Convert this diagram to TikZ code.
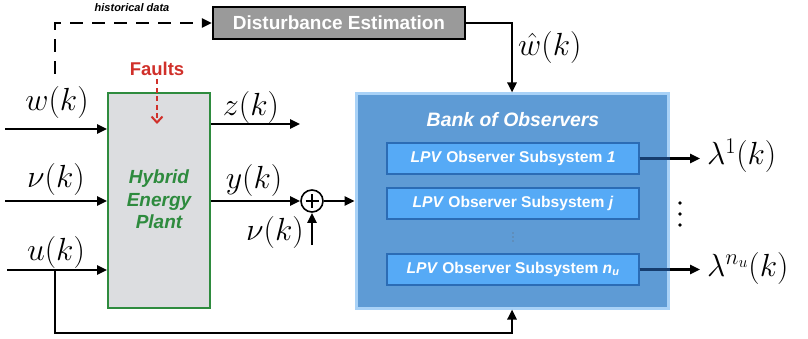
\RequirePackage{fix-cm}
\documentclass[tikz,border=0pt]{standalone}
\usepackage{fontspec}
\setsansfont{Liberation Sans}
\usetikzlibrary{arrows.meta,calc}

\definecolor{degray}{HTML}{9A9A9A}
\definecolor{plantfill}{HTML}{DCDDE0}
\definecolor{plantgreen}{HTML}{2E8B3E}
\definecolor{bankfill}{HTML}{5E9BD5}
\definecolor{bankedge}{HTML}{A9D2F7}
\definecolor{subfill}{HTML}{56AAF6}
\definecolor{subedge}{HTML}{2B6CB5}
\definecolor{faultred}{HTML}{D0302A}
\definecolor{navyline}{HTML}{163D6E}

\tikzset{
  sig/.style={line width=2.4pt, -{Triangle[length=10pt,width=9pt]}},
  mathlbl/.style={inner sep=0pt, anchor=base, font=\fontsize{32}{36}\selectfont},
  planttext/.style={inner sep=0pt, anchor=base, text=plantgreen,
    font=\sffamily\bfseries\itshape\fontsize{19}{22}\selectfont},
  subbox/.style={draw=subedge, line width=1.2pt, fill=subfill, minimum width=252pt,
    minimum height=31pt, inner sep=0pt, text=white,
    font=\sffamily\bfseries\fontsize{15.6}{18}\selectfont},
}

\begin{document}
\begin{tikzpicture}[x=1pt,y=-1pt]
\useasboundingbox (0,0) rectangle (808,339);

% disturbance estimation block and its historical-data feed
\node[draw=black, line width=2.5pt, fill=degray, minimum width=252pt, minimum height=32pt,
  inner sep=0pt, text=white, font=\sffamily\bfseries\fontsize{19}{22}\selectfont]
  (de) at (339,23) {Disturbance Estimation};
\node[inner sep=0pt, font=\sffamily\bfseries\itshape\fontsize{11}{13}\selectfont]
  (hist) at (132,8) {historical data};
\coordinate (hd) at (55,74);
\draw[sig, dash pattern=on 13pt off 9pt] (hd) |- (de.west);

% plant
\node[draw=plantgreen, line width=2pt, fill=plantfill, minimum width=102pt,
  minimum height=215pt, inner sep=0pt] (plant) at (159,200.5) {};
\node[planttext] (pl1) at (159,184) {Hybrid};
\node[planttext] (pl2) at (159,207) {Energy};
\node[planttext] (pl3) at (159,229) {Plant};

% faults
\node[inner sep=0pt, anchor=base, text=faultred,
  font=\sffamily\bfseries\fontsize{18.5}{22}\selectfont] (faults) at (157,76) {Faults};
\coordinate (fend) at (157,124);
\draw[faultred, line width=2pt, dash pattern=on 5pt off 3.5pt,
  -{Straight Barb[length=6pt,width=11pt,line width=2pt]}] ($(faults.south)+(0,3)$) -- (fend);

% plant inputs
\coordinate (win) at (5,129);
\coordinate (nin) at (5,201);
\coordinate (uin) at (7,270);
\draw[sig] (win) -- (win -| plant.west);
\draw[sig] (nin) -- (nin -| plant.west);
\draw[sig] (uin) -- (uin -| plant.west);
\node[mathlbl] (lw) at (57,110.5) {$w(k)$};
\node[mathlbl] (ln) at (56,188) {$\nu(k)$};
\node[mathlbl] (lu) at (56,260) {$u(k)$};

% plant outputs
\coordinate (zout) at (300,124);
\draw[sig] (zout -| plant.east) -- (zout);
\node[mathlbl] (lz) at (251,115.5) {$z(k)$};

\node[draw=black, line width=1.6pt, circle, minimum size=22pt, inner sep=0pt] (sum) at (312,201) {};
\draw[line width=1.3pt] ($(sum.center)+(-6.5,0)$) -- ($(sum.center)+(6.5,0)$)
  ($(sum.center)+(0,-6.5)$) -- ($(sum.center)+(0,6.5)$);
\draw[sig] (sum -| plant.east) -- (sum.west);
\node[mathlbl] (ly) at (254,188.5) {$y(k)$};
\coordinate (nub) at (312,245);
\draw[sig] (nub) -- (sum.south);
\node[mathlbl] (ln2) at (275,240) {$\nu(k)$};

% bank of observers
\node[draw=bankedge, line width=3pt, fill=bankfill, minimum width=312pt,
  minimum height=214pt, inner sep=0pt] (bank) at (512,201) {};
\node[inner sep=0pt, anchor=base, text=white,
  font=\sffamily\bfseries\itshape\fontsize{19.4}{22}\selectfont] (banktitle) at (513,127)
  {Bank of Observers};
\node[subbox] (s1) at (513,158.5) {\textit{LPV} Observer Subsystem \textit{1}};
\node[subbox] (sj) at (513,203.5) {\textit{LPV} Observer Subsystem \textit{j}};
\node[subbox] (sn) at (513,269.5) {\textit{LPV} Observer Subsystem \textit{n\textsubscript{u}}};
% small dots between the subsystem boxes
\foreach \yy in {233,237,241} \fill[black!60] (513,\yy) circle (0.6pt);

\draw[sig] (sum.east) -- (sum -| bank.west);

% estimate of the disturbance
\draw[sig] (de.east) -| (bank.north);
\node[mathlbl, anchor=base west] (lwh) at (518,56) {$\hat{w}(k)$};

% input feed to the bank
\coordinate (ub) at (55,270);
\coordinate (ubot) at (55,333);
\draw[sig] (ub) -- (ubot) -| (bank.south);

% residual outputs
\coordinate (o1) at (700,158.5);
\coordinate (on) at (700,269.5);
\draw[sig] (s1.east) -- (o1);
\draw[sig] (sn.east) -- (on);
\draw[navyline, line width=2.4pt] (s1.east) -- (s1.east -| bank.east);
\draw[navyline, line width=2.4pt] (sn.east) -- (sn.east -| bank.east);
\node[mathlbl, anchor=base west] (l1) at (707,165) {$\lambda^{1}(k)$};
\node[mathlbl, anchor=base west] (lnu) at (707,276) {$\lambda^{n_u}(k)$};
\foreach \yy in {203,214,225} \fill (680,\yy) circle (1.8pt);

\end{tikzpicture}
\end{document}
